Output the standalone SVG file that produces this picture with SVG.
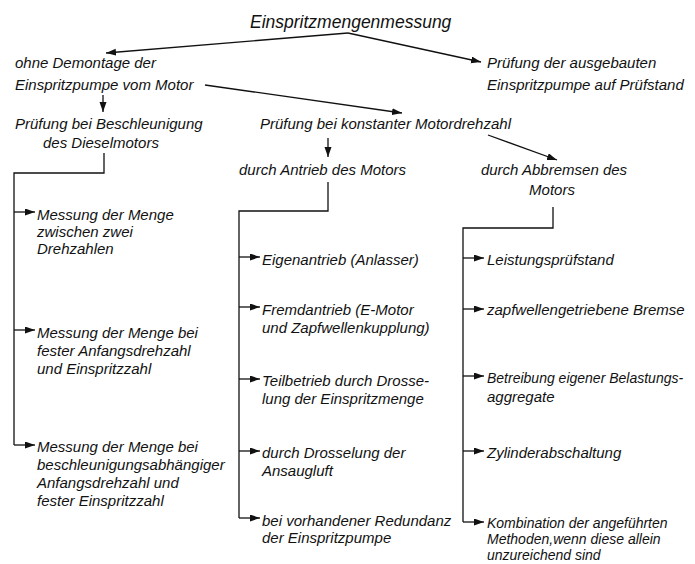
<svg xmlns="http://www.w3.org/2000/svg" width="695" height="564" viewBox="0 0 695 564">
<style>
text{font-family:"Liberation Sans",Arial,sans-serif;font-style:italic;font-size:15px;fill:#111}
.title{font-size:17.5px}
.sm{font-size:14px}
.c{stroke:#111;stroke-width:1.3;fill:none}
.a{marker-end:url(#ah)}
</style>
<defs>
<marker id="ah" markerUnits="userSpaceOnUse" markerWidth="12" markerHeight="8" refX="10" refY="3.5" orient="auto">
<path d="M0,0 L10,3.5 L0,7 z" fill="#111"/>
</marker>
</defs>
<rect width="695" height="564" fill="#fff"/>
<g id="connectors">
<path class="c a" d="M348,33 L106,53"/>
<path class="c a" d="M348,33 L481,62"/>
<path class="c a" d="M205,85 L402,113"/>
<path class="c a" d="M103,95 L103,112"/>
<path class="c a" d="M328,138 L328,157"/>
<path class="c a" d="M488,135 L557,160"/>
<path class="c" d="M104,153 V173 H14 V445"/>
<path class="c a" d="M14,212 H35"/>
<path class="c a" d="M14,330 H35"/>
<path class="c a" d="M14,445 H35"/>
<path class="c" d="M328,182 V211 H239 V518"/>
<path class="c a" d="M239,257 H260"/>
<path class="c a" d="M239,307 H260"/>
<path class="c a" d="M239,379 H260"/>
<path class="c a" d="M239,451 H260"/>
<path class="c a" d="M239,518 H260"/>
<path class="c" d="M553,207 V228 H463 V522"/>
<path class="c a" d="M463,258 H484"/>
<path class="c a" d="M463,309 H484"/>
<path class="c a" d="M463,376 H484"/>
<path class="c a" d="M463,451 H484"/>
<path class="c a" d="M463,522 H484"/>
</g>
<g id="n-root"><text class="title" x="250" y="28">Einspritzmengenmessung</text></g>
<g id="n-ohne"><text x="15" y="68">ohne Demontage der</text><text x="15" y="90">Einspritzpumpe vom Motor</text></g>
<g id="n-ausgebaut"><text x="487" y="68">Prüfung der ausgebauten</text><text x="487" y="90">Einspritzpumpe auf Prüfstand</text></g>
<g id="n-beschl"><text x="15" y="129">Prüfung bei Beschleunigung</text><text x="43" y="148">des Dieselmotors</text></g>
<g id="n-konst"><text x="260" y="129">Prüfung bei konstanter Motordrehzahl</text></g>
<g id="n-antrieb"><text x="239" y="175">durch Antrieb des Motors</text></g>
<g id="n-abbrems"><text x="554" y="175" text-anchor="middle">durch Abbremsen des</text><text x="552" y="195" text-anchor="middle">Motors</text></g>
<g id="n-l1"><text x="37" y="220">Messung der Menge</text><text x="37" y="237">zwischen zwei</text><text x="37" y="254">Drehzahlen</text></g>
<g id="n-l2"><text x="37" y="338">Messung der Menge bei</text><text x="37" y="356">fester Anfangsdrehzahl</text><text x="37" y="374">und Einspritzzahl</text></g>
<g id="n-l3"><text x="37" y="452">Messung der Menge bei</text><text x="37" y="470">beschleunigungsabhängiger</text><text x="37" y="488">Anfangsdrehzahl und</text><text x="37" y="506">fester Einspritzzahl</text></g>
<g id="n-m1"><text x="262" y="265">Eigenantrieb (Anlasser)</text></g>
<g id="n-m2"><text x="262" y="315">Fremdantrieb (E-Motor</text><text x="262" y="333">und Zapfwellenkupplung)</text></g>
<g id="n-m3"><text x="262" y="386">Teilbetrieb durch Drosse-</text><text x="262" y="404">lung der Einspritzmenge</text></g>
<g id="n-m4"><text x="262" y="458">durch Drosselung der</text><text x="262" y="476">Ansaugluft</text></g>
<g id="n-m5"><text x="262" y="526">bei vorhandener Redundanz</text><text x="262" y="543">der Einspritzpumpe</text></g>
<g id="n-r1"><text x="487" y="265">Leistungsprüfstand</text></g>
<g id="n-r2"><text x="487" y="315">zapfwellengetriebene Bremse</text></g>
<g id="n-r3"><text class="sm" x="487" y="383">Betreibung eigener Belastungs-</text><text x="487" y="402">aggregate</text></g>
<g id="n-r4"><text x="487" y="458">Zylinderabschaltung</text></g>
<g id="n-r5" class="sm"><text class="sm" x="487" y="528">Kombination der angeführten</text><text class="sm" x="487" y="544">Methoden,wenn diese allein</text><text class="sm" x="487" y="560">unzureichend sind</text></g>
</svg>
